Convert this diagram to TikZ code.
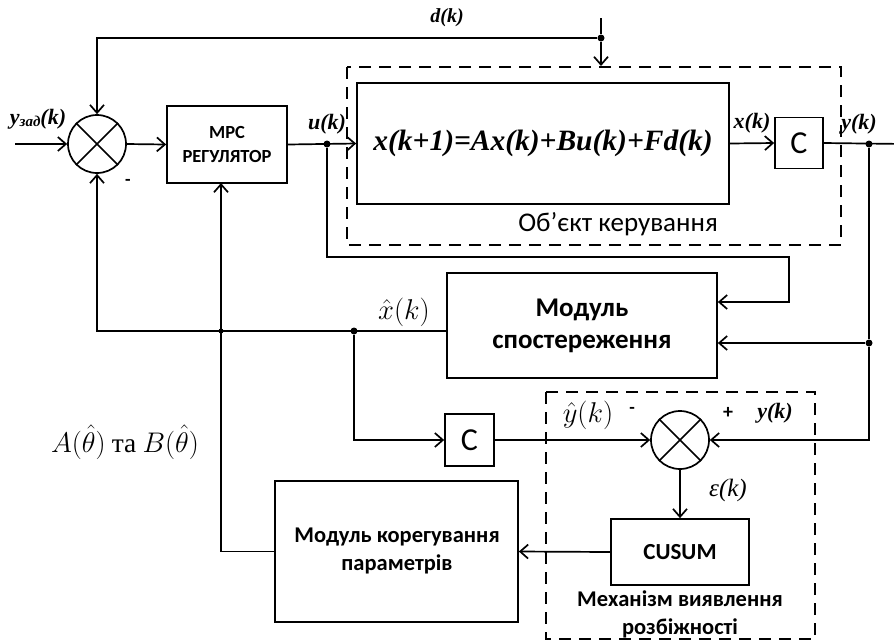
\documentclass[tikz,border=0pt]{standalone}
\usepackage{graphicx}
\usepackage{fontspec}
\setmainfont{Carlito}
\newfontfamily\tnr{Liberation Serif}
\usetikzlibrary{arrows.meta}
\tikzset{
  ln/.style={line width=1.7pt},
  arr/.style={ln,-{Straight Barb[length=8pt,width=14pt]}},
  blk/.style={draw,ln,rectangle,inner sep=0pt,align=center},
  sumc/.style={draw,ln,circle,minimum size=58pt,inner sep=0pt},
  dbox/.style={line width=1.5pt,dash pattern=on 12pt off 8pt},
  dotn/.style={circle,fill=black,inner sep=0pt,minimum size=7pt},
  bi/.style={font=\tnr\bfseries\itshape\fontsize{22}{24}\selectfont,inner sep=0pt},
  lab/.style={inner sep=0pt},
}
\newcommand{\xcross}[1]{\draw[ln] (#1.45)--(#1.225) (#1.135)--(#1.315);}
\begin{document}
\begin{tikzpicture}[x=1pt,y=-1pt]
\useasboundingbox (0,0) rectangle (894,641);
% dashed boxes
\draw[dbox] (347,67) rectangle (841,245);
\draw[dbox] (546,392) rectangle (815,639);
% blocks
\node[sumc] (s1) at (97,144) {};
\xcross{s1}
\node[blk,minimum width=120pt,minimum height=77pt,font=\bfseries\fontsize{18.5}{24}\selectfont] (mpc) at (227,144.5) {MPC\\РЕГУЛЯТОР};
\node[blk,minimum width=372pt,minimum height=121pt,font=\tnr\bfseries\itshape\fontsize{29.5}{32}\selectfont] (plant) at (543,143.5) {x(k+1)=Ax(k)+Bu(k)+Fd(k)};
\node[blk,minimum width=48pt,minimum height=51pt,font=\fontsize{32}{34}\selectfont] (cb) at (799,143) {C};
\node[blk,minimum width=270pt,minimum height=105pt,font=\bfseries\fontsize{27}{32}\selectfont] (obs) at (582,325.5) {Модуль\\спостереження};
\node[blk,minimum width=49pt,minimum height=52pt,font=\fontsize{32}{34}\selectfont] (c2) at (469.5,440) {C};
\node[sumc] (s2) at (680,440) {};
\xcross{s2}
\node[blk,minimum width=138pt,minimum height=66pt,font=\bfseries\fontsize{23}{26}\selectfont] (cusum) at (680,552) {CUSUM};
\node[blk,minimum width=243pt,minimum height=141pt] (corr) at (396.5,551.5) {};
\node[lab,align=center,font=\bfseries\fontsize{22.5}{28}\selectfont] (corrt) at (397,551) {Модуль корегування\\параметрів};
% coordinates and dots
\coordinate (in) at (15,144);
\node[dotn] (ud) at (327,144) {};
\node[dotn] (yd) at (869,144) {};
\coordinate (out) at (905,144);
\coordinate (dtop) at (601,18);
\node[dotn] (dd) at (601,38) {};
\coordinate (dend) at (601,66);
\coordinate (u1) at (327,257);
\coordinate (u2) at (789,257);
\coordinate (u3) at (789,302);
\node[dotn] (yd2) at (869,343) {};
\node[dotn] (xd) at (354,331) {};
\node[dotn,minimum size=5pt] (xd2) at (221,331) {};
\coordinate (mpcin) at (221,183);
% connectors
\draw[arr] (in) -- (s1.west);
\draw[arr] (s1.east) -- (mpc.west);
\draw[arr] (mpc.east) -- (plant.west);
\draw[arr] (plant.east) -- (cb.west);
\draw[arr] (cb.east) -- (out);
\draw[ln] (dtop) -- (dd);
\draw[arr] (dd) -- (dend);
\draw[arr] (dd) -| (s1.north);
\draw[arr] (ud) -- (u1) -- (u2) -- (u3) -- (obs.east |- u3);
\draw[ln] (yd) -- (yd2);
\draw[arr] (yd2) -- (obs.east |- yd2);
\draw[arr] (yd2) |- (s2.east);
\draw[arr] (obs.west |- xd) -| (s1.south);
\draw[arr] (xd) |- (c2.west);
\draw[arr] (c2.east) -- (s2.west);
\draw[arr] (s2.south) -- (cusum.north);
\draw[arr] (cusum.west) -- (corr.east);
\draw[arr] (corr.west) -| (mpcin);
% labels
\node[bi,font=\tnr\bfseries\itshape\fontsize{20}{22}\selectfont] (ld) at (447,18) {d(k)};
\node[bi] (ly) at (38,119) {y\raisebox{-0.25ex}{\fontsize{15}{16}\selectfont зад}(k)};
\node[lab,font=\bfseries\fontsize{18}{20}\selectfont] (lm1) at (128,182) {-};
\node[bi] (lu) at (327,124) {u(k)};
\node[bi] (lx) at (752,123) {x(k)};
\node[bi] (lyk) at (859,124) {y(k)};
\node[lab,font=\fontsize{27}{30}\selectfont] (lobj) at (618,224) {Об’єкт керування};
\node[lab,font=\fontsize{24}{30}\selectfont] (lxh) at (404,312) {\scalebox{1.15}{$\hat{x}(k)$}};
\node[lab,font=\fontsize{24}{30}\selectfont] (lab) at (125,442) {\scalebox{1.14}{$A\big(\hat{\theta}\big)$ {\tnr та} $B\big(\hat{\theta}\big)$}};
\node[lab,font=\fontsize{24}{30}\selectfont] (lyh) at (588,415) {\scalebox{1.15}{$\hat{y}(k)$}};
\node[lab,font=\bfseries\fontsize{18}{20}\selectfont] (lm2) at (632,410) {-};
\node[lab,font=\bfseries\fontsize{20}{22}\selectfont] (lp2) at (728,413) {+};
\node[bi] (ly2) at (775,413) {y(k)};
\node[lab,font=\tnr\itshape\fontsize{25}{28}\selectfont] (leps) at (728,490) {ε(k)};
\node[lab,align=center,font=\bfseries\fontsize{22.5}{28}\selectfont] (ldet) at (680,614) {Механізм виявлення\\розбіжності};
\end{tikzpicture}
\end{document}
